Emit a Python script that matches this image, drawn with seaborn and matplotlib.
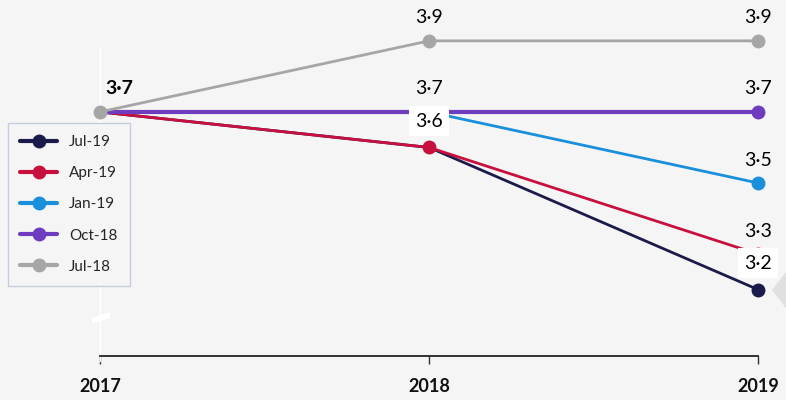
import matplotlib
matplotlib.use("Agg")
import matplotlib.pyplot as plt
from matplotlib.lines import Line2D
from matplotlib.patches import Polygon
import seaborn as sns
import pandas as pd

# data
years = [2017, 2018, 2019]
series_names = ["Jul-19", "Apr-19", "Jan-19", "Oct-18", "Jul-18"]
jul19 = [3.7, 3.6, 3.2]
apr19 = [3.7, 3.6, 3.3]
jan19 = [3.7, 3.7, 3.5]
oct18 = [3.7, 3.7, 3.7]
jul18 = [3.7, 3.9, 3.9]
colors = ["#1b1b4b", "#c8103e", "#1a8fdb", "#6e3cbf", "#a6a6a6"]
widths = [2.0, 2.0, 2.0, 3.0, 2.0]
# which points get a dot
dots = [[0, 0, 1], [0, 1, 1], [0, 0, 1], [0, 0, 1], [1, 1, 1]]

# value labels: (year, value, text, boxed)
labels = [
    (2017, 3.7, "3·7", False),
    (2018, 3.9, "3·9", False),
    (2019, 3.9, "3·9", False),
    (2018, 3.7, "3·7", False),
    (2019, 3.7, "3·7", False),
    (2018, 3.6, "3·6", True),
    (2019, 3.5, "3·5", False),
    (2019, 3.3, "3·3", False),
    (2019, 3.2, "3·2", True),
]

values = [jul19, apr19, jan19, oct18, jul18]
df = pd.concat([pd.DataFrame({"year": years, "value": v, "series": n})
                for n, v in zip(series_names, values)])

sns.set_style("white")
plt.rcParams["font.family"] = ["Lato", "DejaVu Sans"]

fig = plt.figure(figsize=(7.86, 4.0), dpi=100)
fig.patch.set_facecolor("#f5f5f5")
ax = fig.add_axes([100 / 786, 44 / 400, 658 / 786, 356 / 400])
ax.set_facecolor("#f5f5f5")

for i, name in enumerate(series_names):
    d = df[df["series"] == name]
    sns.lineplot(data=d, x="year", y="value", color=colors[i], linewidth=widths[i], ax=ax, zorder=2 + i)
    dx = [x for x, m in zip(years, dots[i]) if m]
    dy = [y for y, m in zip(values[i], dots[i]) if m]
    ax.plot(dx, dy, "o", color=colors[i], markersize=9, zorder=3 + i, clip_on=False)

ax.set_xlim(2017, 2019)
ax.set_ylim(3.013, 4.015)

for x, y, t, boxed in labels:
    dx = 4 if x == 2017 else 0
    kw = {}
    if boxed:
        kw["bbox"] = dict(facecolor="white", edgecolor="none", pad=4.5)
    ax.annotate(t, (x, y), xytext=(dx, 19 if boxed else 16.5), textcoords="offset points",
                ha="center" if x != 2017 else "left", va="center", fontsize=14, color="black",
                fontweight="bold" if x == 2017 else "normal",
                zorder=20, annotation_clip=False, **kw)

ax.set_xticks(years)
ax.set_xticklabels([str(y) for y in years], fontsize=13, fontweight="bold", color="#111111")
ax.tick_params(axis="x", bottom=True, length=6, width=1, color="#333333", direction="out", pad=10)
ax.set_yticks([])
ax.set_xlabel("")
ax.set_ylabel("")

for s in ["top", "right"]:
    ax.spines[s].set_visible(False)
ax.spines["bottom"].set_color("#222222")
ax.spines["bottom"].set_linewidth(1.3)
ax.spines["left"].set_color("white")
ax.spines["left"].set_linewidth(1)
ax.spines["left"].set_bounds(3.0, 3.88)

# small break mark on y axis
fig.patches.append(Polygon([[92 / 786, 76 / 400], [110 / 786, 82 / 400], [110 / 786, 88 / 400], [92 / 786, 82 / 400]],
                           closed=True, facecolor="white", edgecolor="none", transform=fig.transFigure))
# grey pointer at right edge
fig.patches.append(Polygon([[786 / 786, 128 / 400], [772 / 786, 110 / 400], [786 / 786, 92 / 400]],
                           closed=True, facecolor="#e0e0e0", edgecolor="none", transform=fig.transFigure))

handles = [Line2D([0], [0], color=c, linewidth=3, marker="o", markersize=9) for c in colors]
leg = fig.legend(handles, series_names, loc="upper left", bbox_to_anchor=(8 / 786, 1 - 123 / 400),
                 borderaxespad=0, fontsize=11, frameon=True, fancybox=False, handlelength=2.4,
                 labelspacing=1.12, borderpad=0.8, handletextpad=0.8)
leg.get_frame().set_edgecolor("#b8c4d8")
leg.get_frame().set_facecolor("#f5f5f5")
leg.get_frame().set_linewidth(1)
leg.set_zorder(30)

fig.savefig("out.png", dpi=100, facecolor=fig.get_facecolor())
